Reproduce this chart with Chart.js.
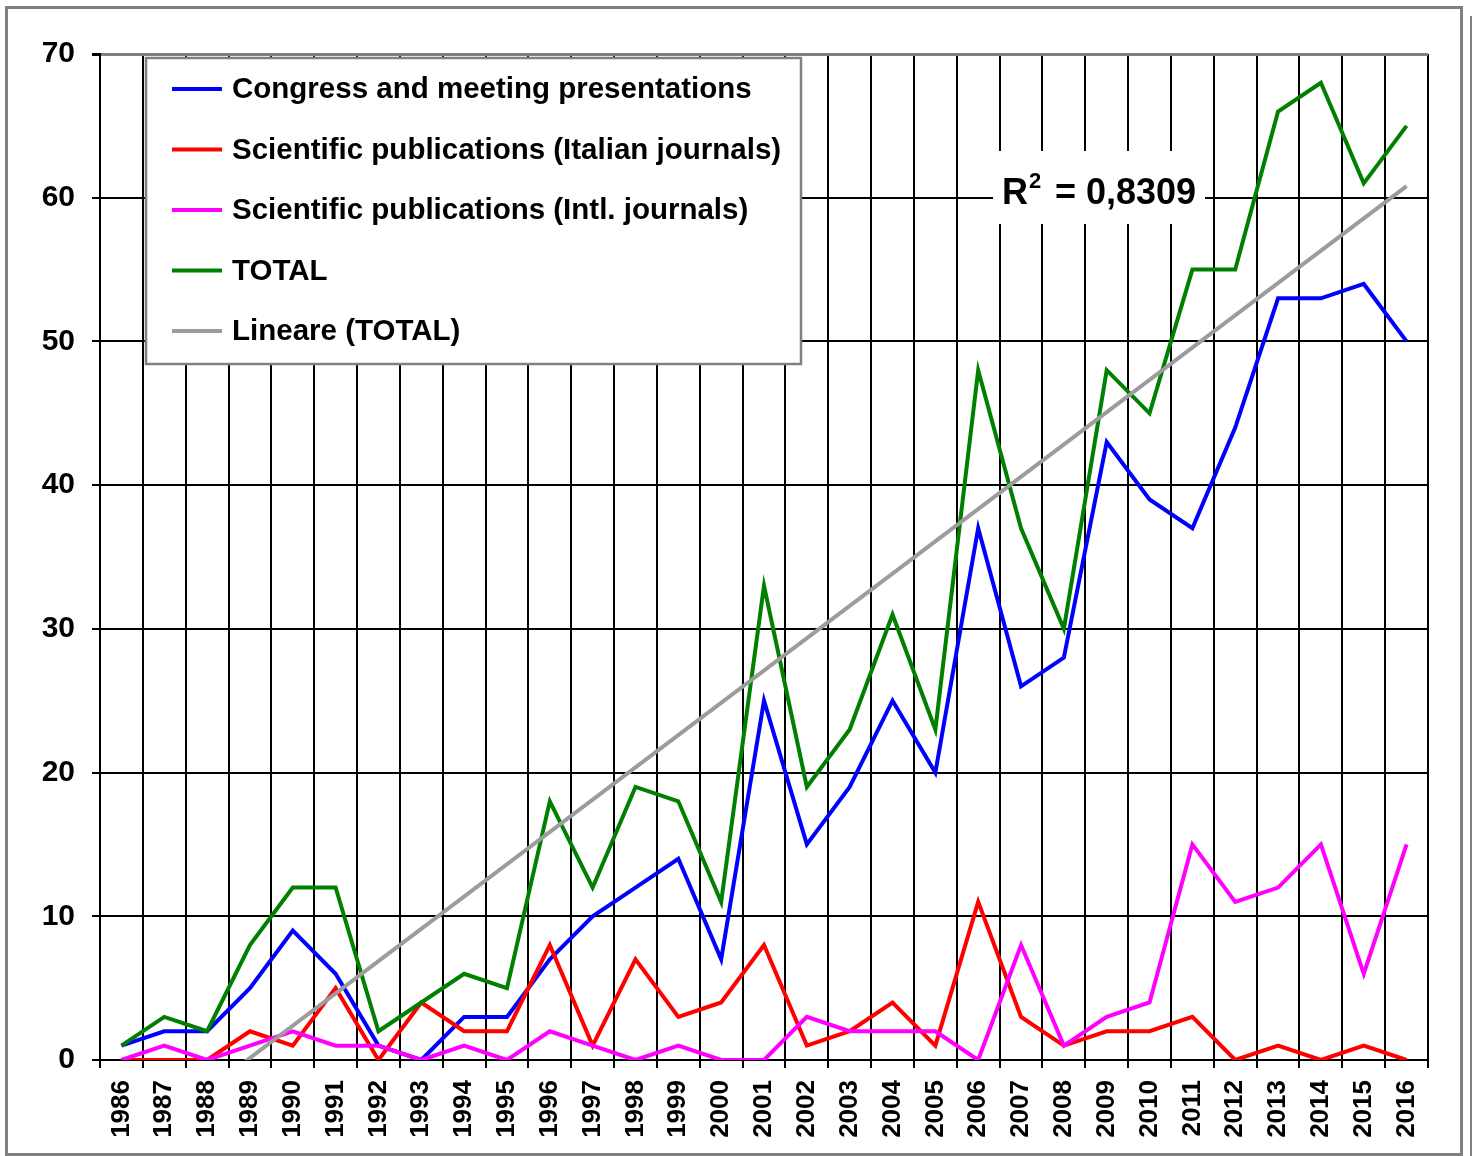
<!DOCTYPE html>
<html lang="en">
<head>
  <meta charset="UTF-8" />
  <title>Congress presentations and publications 1986-2016</title>
  <script src="https://cdn.jsdelivr.net/npm/chart.js"></script>
  <style>
    html, body { margin: 0; padding: 0; background: #fff; }
    canvas { display: block; }
  </style>
</head>
<body>
  <canvas id="chart" width="1472" height="1156"></canvas>

  <script>
    // values
    const years = ['1986', '1987', '1988', '1989', '1990', '1991', '1992', '1993', '1994', '1995',
      '1996', '1997', '1998', '1999', '2000', '2001', '2002', '2003', '2004', '2005',
      '2006', '2007', '2008', '2009', '2010', '2011', '2012', '2013', '2014', '2015', '2016'];
    const congress = [1, 2, 2, 5, 9, 6, 1, 0, 3, 3, 7, 10, 12, 14, 7, 25, 15, 19, 25, 20, 37, 26, 28, 43, 39, 37, 44, 53, 53, 54, 50];
    const italian = [0, 0, 0, 2, 1, 5, 0, 4, 2, 2, 8, 1, 7, 3, 4, 8, 1, 2, 4, 1, 11, 3, 1, 2, 2, 3, 0, 1, 0, 1, 0];
    const intl = [0, 1, 0, 1, 2, 1, 1, 0, 1, 0, 2, 1, 0, 1, 0, 0, 3, 2, 2, 2, 0, 8, 1, 3, 4, 15, 11, 12, 15, 6, 15];
    const total = [1, 3, 2, 8, 12, 12, 2, 4, 6, 5, 18, 12, 19, 18, 11, 33, 19, 23, 31, 23, 48, 37, 30, 48, 45, 55, 55, 66, 68, 61, 65];
    // linear trend of TOTAL, value at first and last year
    const trendYears = ['1986', '2016'];
    const trendValues = [-6.6, 60.8];
    const r2Text = { base: 'R', sup: '2', rest: '= 0,8309' };

    const yTicks = [0, 10, 20, 30, 40, 50, 60, 70];
    const FONT = "'Liberation Sans', Arial, sans-serif";
    const GREY_BORDER = '#808080';

    const series = [
      { label: 'Congress and meeting presentations', data: congress, color: '#0000ff', order: 5 },
      { label: 'Scientific publications (Italian journals)', data: italian, color: '#ff0000', order: 4 },
      { label: 'Scientific publications (Intl. journals)', data: intl, color: '#ff00ff', order: 3 },
      { label: 'TOTAL', data: total, color: '#008000', order: 2 },
      { label: 'Lineare (TOTAL)', data: trendYears.map((y, i) => ({ x: y, y: trendValues[i] })), color: '#9c9c9c', order: 1 }
    ];

    const datasets = series.map(s => ({
      label: s.label,
      data: s.data,
      borderColor: s.color,
      backgroundColor: s.color,
      borderWidth: 4,
      pointRadius: 0,
      tension: 0,
      fill: false,
      order: s.order,
      clip: 0
    }));

    // frame, R² box and the legend box inside the plot
    const decorations = {
      id: 'decorations',
      beforeDatasetsDraw(chart) {
        const ctx = chart.ctx;
        ctx.save();
        ctx.fillStyle = '#fff';
        ctx.fillRect(993, 151, 212, 73);
        ctx.fillStyle = '#000';
        ctx.textBaseline = 'alphabetic';
        ctx.textAlign = 'left';
        ctx.font = `bold 36px ${FONT}`;
        ctx.fillText(r2Text.base, 1002, 204);
        ctx.font = `bold 22px ${FONT}`;
        ctx.fillText(r2Text.sup, 1029, 188);
        ctx.font = `bold 36px ${FONT}`;
        ctx.fillText(r2Text.rest, 1055, 204);
        ctx.restore();
      },
      afterDraw(chart) {
        const ctx = chart.ctx;
        ctx.save();
        // outer frame
        ctx.strokeStyle = GREY_BORDER;
        ctx.lineWidth = 3;
        ctx.strokeRect(6.5, 7.5, 1455, 1147);
        ctx.lineWidth = 2;
        ctx.beginPath();
        ctx.moveTo(1471, 16);
        ctx.lineTo(1471, 1156);
        ctx.stroke();

        // legend
        ctx.fillStyle = '#fff';
        ctx.fillRect(146, 58, 655, 306);
        ctx.strokeStyle = GREY_BORDER;
        ctx.lineWidth = 2.5;
        ctx.strokeRect(146, 58, 655, 306);
        ctx.font = `bold 29.5px ${FONT}`;
        ctx.textBaseline = 'middle';
        ctx.textAlign = 'left';
        series.forEach((s, i) => {
          const y = 89 + i * 60.5;
          ctx.strokeStyle = s.color;
          ctx.lineWidth = 4;
          ctx.beginPath();
          ctx.moveTo(172, y);
          ctx.lineTo(222, y);
          ctx.stroke();
          ctx.fillStyle = '#000';
          ctx.fillText(s.label, 232, y + 1);
        });
        ctx.restore();
      }
    };

    new Chart(document.getElementById('chart').getContext('2d'), {
      type: 'line',
      data: { labels: years, datasets },
      options: {
        responsive: false,
        animation: false,
        layout: { padding: { top: 54, right: 44, left: 0, bottom: 0 } },
        plugins: {
          legend: { display: false },
          tooltip: { enabled: false }
        },
        scales: {
          x: {
            type: 'category',
            offset: true,
            grid: {
              offset: true,
              color: ctx => ctx.index === years.length ? GREY_BORDER : '#000',
              lineWidth: ctx => ctx.index === years.length ? 3 : 2,
              tickColor: '#000',
              tickLength: 8
            },
            border: { color: '#000', width: 2 },
            ticks: {
              color: '#000',
              font: { family: FONT, size: 26, weight: 'bold' },
              minRotation: 90,
              maxRotation: 90,
              autoSkip: false,
              padding: 12
            },
            afterFit: scale => { scale.height = 96; }
          },
          y: {
            min: 0,
            max: 70,
            afterBuildTicks: scale => { scale.ticks = yTicks.map(v => ({ value: v })); },
            grid: {
              color: ctx => ctx.tick && ctx.tick.value === 70 ? GREY_BORDER : '#000',
              lineWidth: ctx => ctx.tick && ctx.tick.value === 70 ? 3 : 2,
              tickColor: '#000',
              tickLength: 8
            },
            border: { color: '#000', width: 2 },
            ticks: {
              color: '#000',
              font: { family: FONT, size: 30, weight: 'bold' },
              padding: 17
            },
            afterFit: scale => { scale.width = 100; }
          }
        }
      },
      plugins: [decorations]
    });
  </script>
</body>
</html>
